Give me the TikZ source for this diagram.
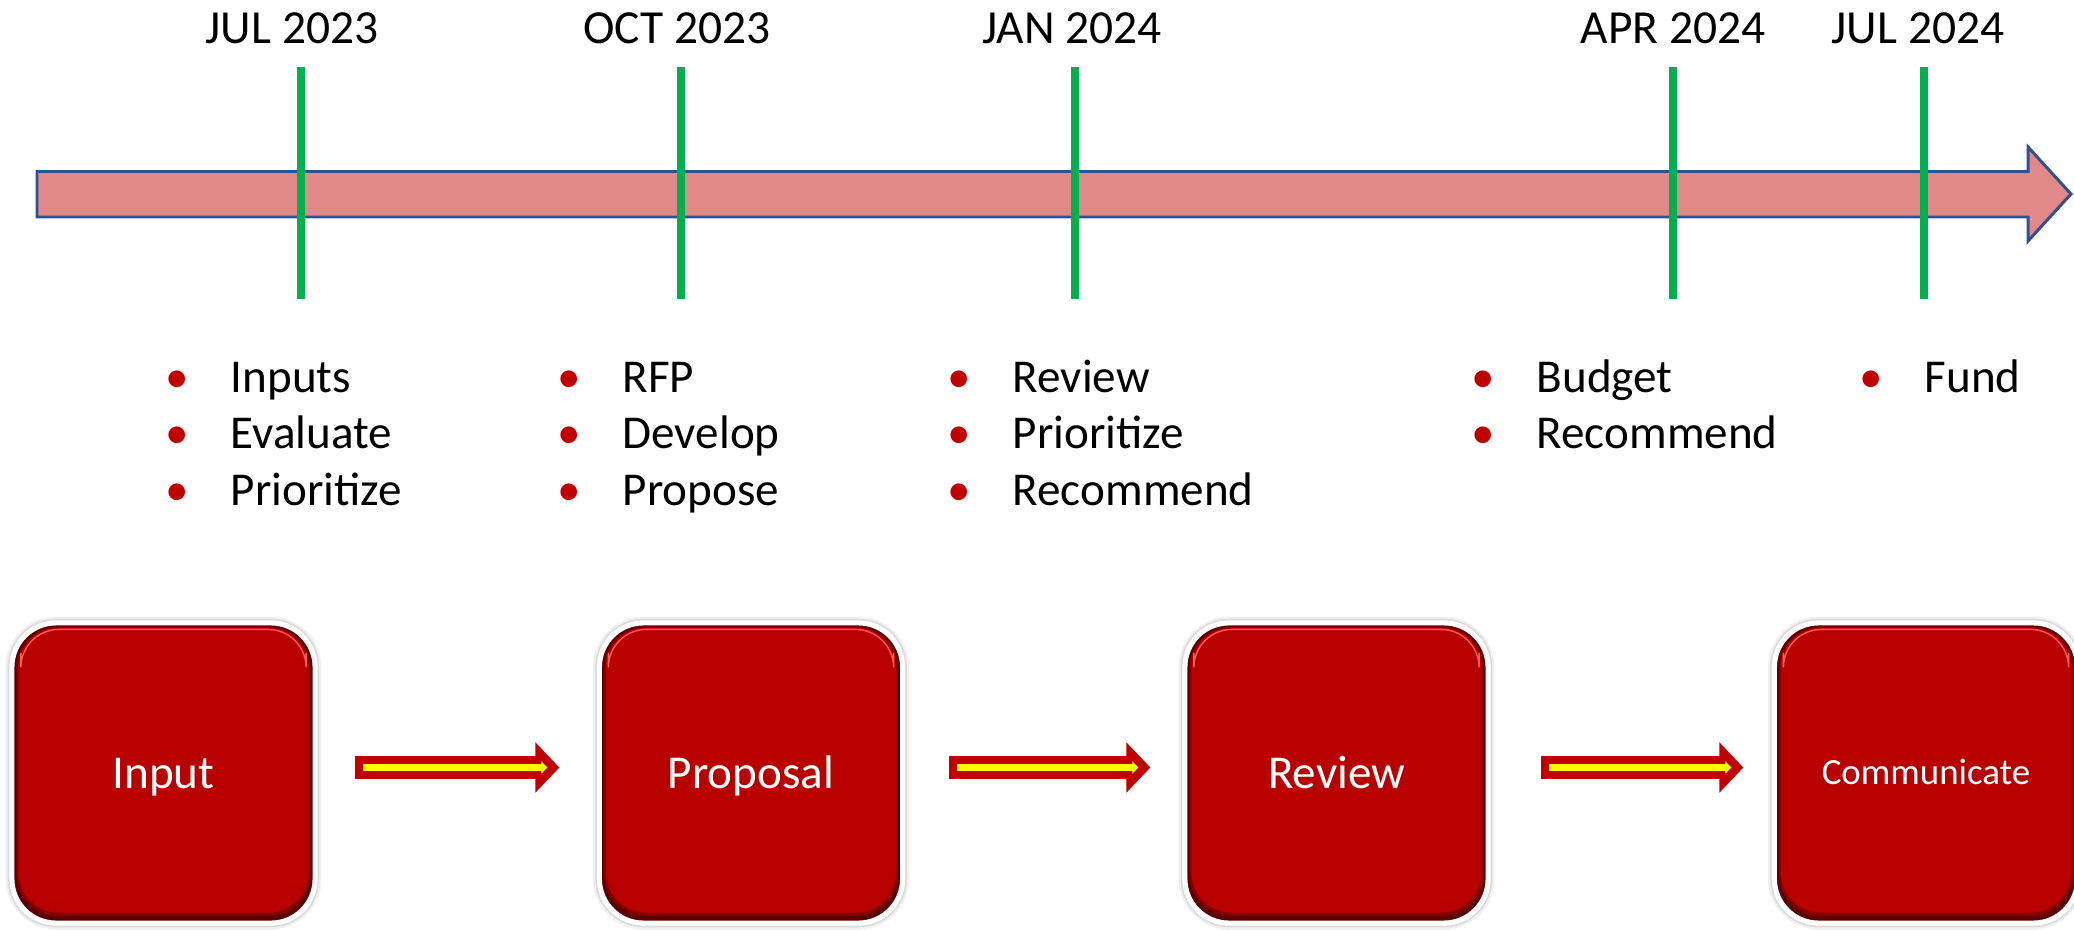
\documentclass[tikz,border=0pt]{standalone}
\usepackage{fontspec}
\setmainfont{Carlito}
\usetikzlibrary{arrows.meta,calc}

\definecolor{barfill}{RGB}{224,137,136}
\definecolor{barline}{RGB}{47,82,143}
\definecolor{tickgreen}{RGB}{0,176,80}
\definecolor{bulletred}{RGB}{192,0,0}
\definecolor{boxred}{RGB}{184,0,0}
\definecolor{boxmid}{RGB}{130,0,0}
\definecolor{boxdark}{RGB}{90,0,0}
\definecolor{flowred}{RGB}{192,0,0}
\definecolor{flowyellow}{RGB}{255,255,0}

\newcommand\itembullet{\llap{\textcolor{bulletred}{\textbullet}\hspace{0.42cm}}}

\tikzset{
  monthlabel/.style={anchor=base, inner sep=0pt, font=\fontsize{13.5}{16}\selectfont},
  monthtick/.style={draw=tickgreen, line width=2pt},
  listitem/.style={anchor=base west, inner sep=0pt, font=\fontsize{13.4}{16}\selectfont},
  stagebox/.style={rectangle, rounded corners=0.44cm, minimum width=3.03cm,
    minimum height=3.0cm, inner sep=0pt, text height=8.6pt, text depth=0pt,
    text=white, font=\fontsize{13.4}{16}\selectfont,
    preaction={draw=black!6, line width=3.6pt},
    preaction={draw=black!14, line width=2.4pt},
    draw=white, line width=1.45pt,
    path picture={
      \fill[boxdark] (path picture bounding box.south west) rectangle (path picture bounding box.north east);
      \fill[boxmid, rounded corners=0.42cm]
        ([shift={(0.045cm,-0.035cm)}]path picture bounding box.north west) rectangle
        ([shift={(-0.045cm,0.07cm)}]path picture bounding box.south east);
      \fill[boxred, rounded corners=0.40cm]
        ([shift={(0.065cm,-0.05cm)}]path picture bounding box.north west) rectangle
        ([shift={(-0.065cm,0.105cm)}]path picture bounding box.south east);
      \draw[red!65!white, line width=0.4pt, rounded corners=0.38cm]
        ([shift={(0.09cm,-0.30cm)}]path picture bounding box.north west) --
        ([shift={(0.09cm,-0.065cm)}]path picture bounding box.north west) --
        ([shift={(-0.09cm,-0.065cm)}]path picture bounding box.north east) --
        ([shift={(-0.09cm,-0.30cm)}]path picture bounding box.north east);
    }},
  flowarrow/.style={draw=flowred, line width=6.55pt,
    -{Triangle[length=0.24cm, width=0.49cm]}},
  flowcore/.style={draw=flowyellow, line width=2.2pt,
    -{Triangle[length=0.06cm, width=0.12cm]}}
}

\begin{document}
\begin{tikzpicture}[x=0.01cm, y=-0.01cm]
  \useasboundingbox (0,0) rectangle (2074,930);

  % time axis
  \draw[draw=barline, line width=0.85pt, fill=barfill, line join=miter]
    (37,171.5) -- (2028,171.5) -- (2028,147) -- (2071,194) -- (2028,241)
    -- (2028,217) -- (37,217) -- cycle;

  % months and their ticks
  \node[monthlabel] (m1) at (292,43)  {JUL 2023};
  \node[monthlabel] (m2) at (677,43)  {OCT 2023};
  \node[monthlabel] (m3) at (1072,43) {JAN 2024};
  \node[monthlabel] (m4) at (1673,43) {APR 2024};
  \node[monthlabel] (m5) at (1918,43) {JUL 2024};

  \draw[monthtick] (301,67)  -- (301,299);
  \draw[monthtick] (681,67)  -- (681,299);
  \draw[monthtick] (1075,67) -- (1075,299);
  \draw[monthtick] (1673,67) -- (1673,299);
  \draw[monthtick] (1924,67) -- (1924,299);

  % activities under each month
  \node[listitem] (a11) at (230,392)   {\itembullet Inputs};
  \node[listitem] (a12) at (230,448.5) {\itembullet Evaluate};
  \node[listitem] (a13) at (230,505)   {\itembullet Prioritize};

  \node[listitem] (a21) at (622,392)   {\itembullet RFP};
  \node[listitem] (a22) at (622,448.5) {\itembullet Develop};
  \node[listitem] (a23) at (622,505)   {\itembullet Propose};

  \node[listitem] (a31) at (1012,392)   {\itembullet Review};
  \node[listitem] (a32) at (1012,448.5) {\itembullet Prioritize};
  \node[listitem] (a33) at (1012,505)   {\itembullet Recommend};

  \node[listitem] (a41) at (1536,392)   {\itembullet Budget};
  \node[listitem] (a42) at (1536,448.5) {\itembullet Recommend};

  \node[listitem] (a51) at (1924,392)   {\itembullet Fund};

  % process stages
  \node[stagebox] (s1) at (163.5,773)  {Input};
  \node[stagebox] (s2) at (751,773)  {Proposal};
  \node[stagebox] (s3) at (1336.5,773) {Review};
  \node[stagebox, font=\fontsize{10.5}{13}\selectfont, text height=6.8pt] (s4) at (1926,773) {Communicate};

  % flow between stages
  \draw[flowarrow] ($(s1.east)+(37,-5.5)$) -- ($(s2.west)+(-37.5,-5.5)$);
  \draw[flowcore]  ($(s1.east)+(45,-5.5)$) -- ($(s2.west)+(-49.5,-5.5)$);
  \draw[flowarrow] ($(s2.east)+(43.5,-5.5)$) -- ($(s3.west)+(-32,-5.5)$);
  \draw[flowcore]  ($(s2.east)+(51.5,-5.5)$) -- ($(s3.west)+(-44,-5.5)$);
  \draw[flowarrow] ($(s3.east)+(50,-5.5)$) -- ($(s4.west)+(-28.5,-5.5)$);
  \draw[flowcore]  ($(s3.east)+(58,-5.5)$) -- ($(s4.west)+(-40.5,-5.5)$);
\end{tikzpicture}
\end{document}
